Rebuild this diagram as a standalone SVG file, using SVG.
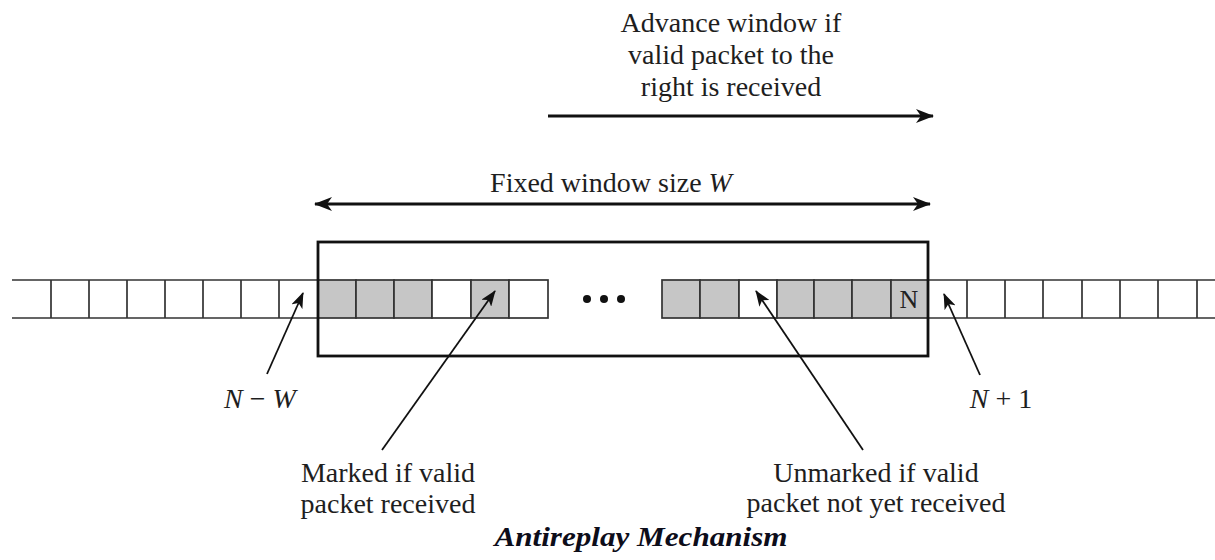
<svg xmlns="http://www.w3.org/2000/svg" width="1215" height="560" viewBox="0 0 1215 560">
<style>
.t{font-family:"Liberation Serif","Times New Roman",serif;font-size:28px;fill:#1e1e1e;text-anchor:middle}
.i{font-style:italic}
.cell{fill:#fff;stroke:#333;stroke-width:1.7}
.g{fill:#c6c6c6}
.ptr{stroke:#111;stroke-width:1.8;fill:none;marker-end:url(#ah)}
.big{stroke:#111;stroke-width:3;fill:none}
.cap{font-family:"Liberation Serif","Times New Roman",serif;font-size:27px;font-weight:bold;font-style:italic;fill:#0d0d1a;text-anchor:middle}
</style>
<defs>
<marker id="ah" markerUnits="userSpaceOnUse" markerWidth="18" markerHeight="12" refX="15" refY="6" orient="auto">
<path d="M0,0 L16,6 L0,12 L4,6 z" fill="#111"/>
</marker>
<marker id="ahb" markerUnits="userSpaceOnUse" markerWidth="20" markerHeight="14" refX="17" refY="7" orient="auto-start-reverse">
<path d="M0,0 L18,7 L0,14 L5,7 z" fill="#111"/>
</marker>
</defs>

<g id="left-strip">
<path d="M12,280 H318 M12,318 H318 M51,280 V318 M89,280 V318 M127,280 V318 M165,280 V318 M203,280 V318 M241,280 V318 M279,280 V318" stroke="#333" stroke-width="1.7" fill="none"/>
</g>

<g id="right-strip">
<path d="M928,280 H1215 M928,318 H1215 M967,280 V318 M1005,280 V318 M1043,280 V318 M1082,280 V318 M1120,280 V318 M1158,280 V318 M1197,280 V318" stroke="#333" stroke-width="1.7" fill="none"/>
</g>

<g id="window-cells-left">
<rect class="cell g" x="318" y="280" width="38" height="38"/>
<rect class="cell g" x="356" y="280" width="38" height="38"/>
<rect class="cell g" x="394" y="280" width="38" height="38"/>
<rect class="cell" x="432" y="280" width="39" height="38"/>
<rect class="cell g" x="471" y="280" width="38" height="38"/>
<rect class="cell" x="509" y="280" width="39" height="38"/>
</g>

<g id="ellipsis" fill="#111">
<circle cx="587" cy="299" r="4"/>
<circle cx="604" cy="299" r="4"/>
<circle cx="621" cy="299" r="4"/>
</g>

<g id="window-cells-right">
<rect class="cell g" x="662" y="280" width="38" height="38"/>
<rect class="cell g" x="700" y="280" width="39" height="38"/>
<rect class="cell" x="739" y="280" width="38" height="38"/>
<rect class="cell g" x="777" y="280" width="37" height="38"/>
<rect class="cell g" x="814" y="280" width="38" height="38"/>
<rect class="cell g" x="852" y="280" width="39" height="38"/>
<rect class="cell g" x="891" y="280" width="37" height="38"/>
<text x="909" y="308" style="font-family:'Liberation Serif',serif;font-size:26px;fill:#222;text-anchor:middle">N</text>
</g>

<g id="window-box">
<rect x="318" y="242" width="610" height="114" fill="none" stroke="#111" stroke-width="2.8"/>
</g>

<g id="connectors">
<line class="big" x1="548" y1="116" x2="933" y2="116" marker-end="url(#ahb)"/>
<line class="big" x1="315" y1="204" x2="930" y2="204" marker-start="url(#ahb)" marker-end="url(#ahb)"/>
<line class="ptr" x1="267" y1="374" x2="303" y2="293"/>
<line class="ptr" x1="980" y1="375" x2="944" y2="294"/>
<line class="ptr" x1="382" y1="450" x2="495" y2="291"/>
<line class="ptr" x1="863" y1="450" x2="756" y2="291"/>
</g>

<g id="label-advance">
<text class="t" x="731" y="32">Advance window if</text>
<text class="t" x="731" y="64">valid packet to the</text>
<text class="t" x="731" y="96">right is received</text>
</g>

<g id="label-fixed">
<text class="t" x="611" y="192">Fixed window size <tspan class="i">W</tspan></text>
</g>

<g id="label-nw">
<text class="t i" x="260" y="408">N <tspan style="font-style:normal">−</tspan> W</text>
</g>

<g id="label-n1">
<text class="t i" x="1001" y="408">N <tspan style="font-style:normal">+ 1</tspan></text>
</g>

<g id="label-marked">
<text class="t" x="388" y="482">Marked if valid</text>
<text class="t" x="388" y="513">packet received</text>
</g>

<g id="label-unmarked">
<text class="t" x="876" y="482">Unmarked if valid</text>
<text class="t" x="876" y="512">packet not yet received</text>
</g>

<g id="caption">
<text class="cap" x="641" y="546" textLength="293" lengthAdjust="spacingAndGlyphs">Antireplay Mechanism</text>
</g>
</svg>
